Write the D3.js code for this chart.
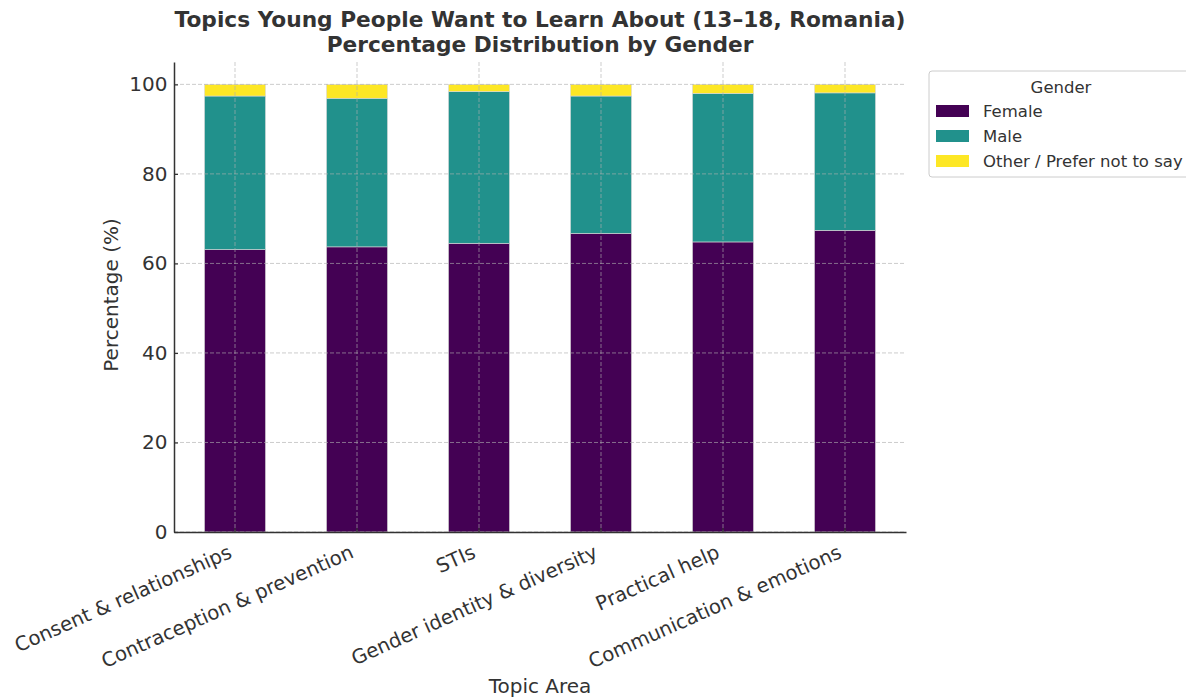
<!DOCTYPE html>
<html>
<head>
<meta charset="utf-8">
<script src="https://cdn.jsdelivr.net/npm/d3@7"></script>
<style>
  body { margin: 0; background: #fff; }
  text { font-family: "DejaVu Sans", sans-serif; fill: #333333; }
</style>
</head>
<body>
<div id="chart"></div>
<script>
// data
var topics = ["Consent & relationships", "Contraception & prevention", "STIs",
  "Gender identity & diversity", "Practical help", "Communication & emotions"];
var female = [63.1, 63.7, 64.5, 66.7, 64.8, 67.4];
var male = [34.3, 33.2, 33.9, 30.7, 33.2, 30.7];
var other = [2.6, 3.1, 1.6, 2.6, 2.0, 1.9];
var genders = ["Female", "Male", "Other / Prefer not to say"];
var yTicks = [0, 20, 40, 60, 80, 100];

var margin = {top: 62, right: 280, bottom: 167, left: 174},
    width = 1186 - margin.left - margin.right,
    height = 699 - margin.top - margin.bottom;

var svg = d3.select("#chart")
  .append("svg")
    .attr("width", 1186)
    .attr("height", 699)
  .append("g")
    .attr("transform", "translate(" + margin.left + "," + margin.top + ")");

var rows = topics.map(function(t, i) {
  return {topic: t, "Female": female[i], "Male": male[i], "Other / Prefer not to say": other[i]};
});

var x = d3.scaleBand()
  .domain(topics)
  .range([0, width])
  .paddingInner(0.5)
  .paddingOuter(0.25);

var y = d3.scaleLinear()
  .domain([0, 105])
  .range([height, 0]);

var color = d3.scaleOrdinal()
  .domain(genders)
  .range(["#440154", "#21918c", "#fde725"]);

var stacked = d3.stack().keys(genders)(rows);

// bars
svg.append("g")
  .selectAll("g")
  .data(stacked)
  .enter().append("g")
    .attr("fill", function(d) { return color(d.key); })
  .selectAll("rect")
  .data(function(d) { return d; })
  .enter().append("rect")
    .attr("x", function(d) { return x(d.data.topic); })
    .attr("y", function(d) { return y(d[1]); })
    .attr("height", function(d) { return y(d[0]) - y(d[1]); })
    .attr("width", x.bandwidth())
    .attr("stroke", "#d9d9d9")
    .attr("stroke-width", 0.6);

// grid (drawn over bars like the original)
var grid = svg.append("g").attr("stroke", "#b0b0b0").attr("stroke-opacity", 0.7)
  .attr("stroke-dasharray", "4,2").attr("stroke-width", 0.9);
grid.selectAll(".gy").data(yTicks).enter().append("line")
  .attr("x1", 0).attr("x2", width)
  .attr("y1", function(d) { return y(d); }).attr("y2", function(d) { return y(d); });
grid.selectAll(".gx").data(topics).enter().append("line")
  .attr("y1", 0).attr("y2", height)
  .attr("x1", function(d) { return x(d) + x.bandwidth() / 2; })
  .attr("x2", function(d) { return x(d) + x.bandwidth() / 2; });

// axes (ticks point inwards)
var yAxis = svg.append("g")
  .call(d3.axisLeft(y).tickValues(yTicks).tickSize(-4).tickPadding(6.5).tickSizeOuter(0));
yAxis.selectAll("text").style("font-size", "20px");
yAxis.select(".domain").attr("stroke", "#333").attr("stroke-width", 1.5);
yAxis.selectAll(".tick line").attr("stroke", "#333").attr("stroke-width", 1.2);

var xAxis = svg.append("g")
  .attr("transform", "translate(0," + height + ")")
  .call(d3.axisBottom(x).tickSize(-4).tickSizeOuter(0));
xAxis.select(".domain").attr("stroke", "#333").attr("stroke-width", 1.5);
xAxis.selectAll(".tick line").attr("stroke", "#333").attr("stroke-width", 1.2);
xAxis.selectAll("text")
  .style("font-size", "19.7px")
  .attr("text-anchor", "end")
  .attr("dy", null)
  .attr("y", 0)
  .attr("transform", "translate(-2,25) rotate(-24)");

// axis titles
svg.append("text")
  .attr("transform", "rotate(-90)")
  .attr("x", -height / 2 + 2)
  .attr("y", -56)
  .attr("text-anchor", "middle")
  .style("font-size", "20px")
  .text("Percentage (%)");

svg.append("text")
  .attr("x", width / 2)
  .attr("y", height + 161)
  .attr("text-anchor", "middle")
  .style("font-size", "20px")
  .text("Topic Area");

// title
svg.append("text")
  .attr("x", width / 2)
  .attr("y", -35)
  .attr("text-anchor", "middle")
  .style("font-size", "21.7px")
  .style("font-weight", "bold")
  .text("Topics Young People Want to Learn About (13–18, Romania)");
svg.append("text")
  .attr("x", width / 2)
  .attr("y", -10)
  .attr("text-anchor", "middle")
  .style("font-size", "21.7px")
  .style("font-weight", "bold")
  .text("Percentage Distribution by Gender");

// legend
var lg = svg.append("g").attr("transform", "translate(" + (width + 23) + ",9)");
lg.append("rect")
  .attr("x", 0).attr("y", 0).attr("width", 268).attr("height", 106)
  .attr("rx", 3)
  .attr("fill", "#fff").attr("stroke", "#cccccc");
lg.append("text")
  .attr("x", 132).attr("y", 22)
  .attr("text-anchor", "middle")
  .style("font-size", "16.5px")
  .text("Gender");
var items = lg.selectAll(".item").data(genders).enter().append("g")
  .attr("transform", function(d, i) { return "translate(7," + (34 + i * 25) + ")"; });
items.append("rect")
  .attr("width", 33).attr("height", 12)
  .attr("fill", function(d) { return color(d); });
items.append("text")
  .attr("x", 47).attr("y", 12)
  .style("font-size", "16.5px")
  .text(function(d) { return d; });
</script>
</body>
</html>
